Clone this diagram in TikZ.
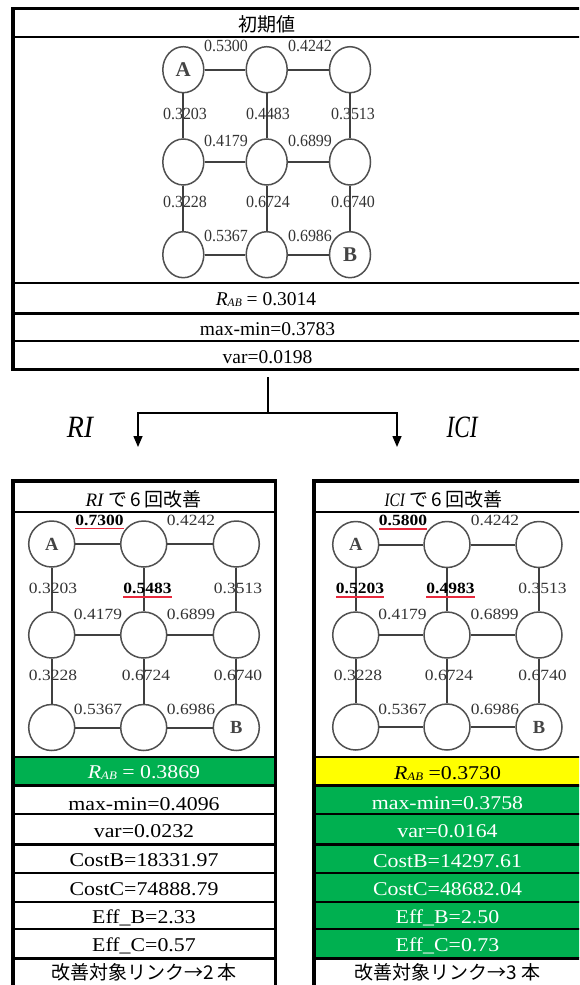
\documentclass[tikz,border=0pt]{standalone}
\usepackage{fontspec}
\usepackage{graphicx}
\setmainfont{Liberation Serif}[FakeStretch=1.12]
\newfontfamily\plainserif{Liberation Serif}
\newfontfamily\sqzserif{Liberation Serif}[FakeStretch=0.94]
\newfontfamily\jp{Noto Sans CJK JP}
\usetikzlibrary{shapes.geometric,arrows.meta}
\definecolor{xgreen}{HTML}{00B050}
\definecolor{xyellow}{HTML}{FFFF00}
\definecolor{cgray}{HTML}{505050}
\definecolor{egray}{HTML}{404040}
\definecolor{lgray}{HTML}{333333}
\definecolor{agray}{HTML}{444444}
\definecolor{ulred}{HTML}{E8283C}
\newcommand\mkgrid[8]{%
  \node[#2] (#111) at (#3,#6) {A};
  \node[#2] (#112) at (#4,#6) {};
  \node[#2] (#113) at (#5,#6) {};
  \node[#2] (#121) at (#3,#7) {};
  \node[#2] (#122) at (#4,#7) {};
  \node[#2] (#123) at (#5,#7) {};
  \node[#2] (#131) at (#3,#8) {};
  \node[#2] (#132) at (#4,#8) {};
  \node[#2] (#133) at (#5,#8) {B};
  \draw[gedge] (#111) -- (#112); \draw[gedge] (#112) -- (#113);
  \draw[gedge] (#121) -- (#122); \draw[gedge] (#122) -- (#123);
  \draw[gedge] (#131) -- (#132); \draw[gedge] (#132) -- (#133);
  \draw[gedge] (#111) -- (#121); \draw[gedge] (#121) -- (#131);
  \draw[gedge] (#112) -- (#122); \draw[gedge] (#122) -- (#132);
  \draw[gedge] (#113) -- (#123); \draw[gedge] (#123) -- (#133);
}
\newcommand\rab[1]{{\itshape R}\raisebox{-1.5pt}{\fontsize{11.5}{12}\selectfont\itshape AB}#1}
\begin{document}
\begin{tikzpicture}[x=1pt,y=-1pt,
  gnode/.style={ellipse,draw=cgray,line width=1.5pt,fill=white,inner sep=0pt,text=agray},
  topnode/.style={gnode,minimum width=41pt,minimum height=46pt,font=\plainserif\bfseries\fontsize{21}{21}\selectfont},
  botnode/.style={gnode,minimum width=46pt,minimum height=46pt,font=\plainserif\bfseries\fontsize{18.5}{18.5}\selectfont},
  gedge/.style={draw=egray,line width=2pt},
  tlab/.style={inner sep=0pt,text=lgray,font=\sqzserif\fontsize{17}{17}\selectfont},
  blab/.style={inner sep=0pt,text=lgray,font=\fontsize{15.6}{16}\selectfont},
  hlab/.style={inner sep=0pt,text=black,font=\bfseries\fontsize{15.6}{16}\selectfont},
  ul/.style={draw=ulred,line width=1.2pt},
  outer/.style={draw=black,line width=3.5pt},
  thickrule/.style={draw=black,line width=3pt},
  thinrule/.style={draw=black,line width=1.1pt},
  toptxt/.style={inner sep=0pt,anchor=base,font=\plainserif\fontsize{19.5}{20}\selectfont},
  bottxt/.style={inner sep=0pt,anchor=base,font=\fontsize{19.5}{20}\selectfont},
  jptxt/.style={inner sep=0pt,font=\jp\fontsize{19}{19}\selectfont},
  conn/.style={draw=black,line width=1.5pt},
  arr/.style={conn,-{Triangle[length=11pt,width=9pt]}}]
\useasboundingbox (0,0) rectangle (579,985);
\clip (0,0) rectangle (579,985);
% fills
\fill[xgreen] (13,757) rectangle (275.5,785);
\fill[xyellow] (314,757) rectangle (595,785);
\fill[xgreen] (314,785) rectangle (595,958);
% top table rules
\draw[thinrule] (13,37) -- (595,37);
\draw[thinrule] (13,283) -- (595,283);
\draw[thickrule] (13,313) -- (595,313);
\draw[thinrule] (13,341) -- (595,341);
\draw[outer] (13,8.5) rectangle (590,369.5);
% bottom tables rules
\foreach \yy in {512,757,814,873,902,929} {
  \draw[thinrule] (13,\yy) -- (275.5,\yy);
  \draw[thinrule] (314,\yy) -- (595,\yy);
}
\foreach \yy in {785,844,958} {
  \draw[thickrule] (13,\yy) -- (275.5,\yy);
  \draw[thickrule] (314,\yy) -- (595,\yy);
}
\draw[outer] (13,1000) -- (13,481) -- (275.5,481) -- (275.5,1000);
\draw[outer] (314,1000) -- (314,481) -- (590,481) -- (590,1000);
% top table texts
\node[jptxt] (ttitle) at (267,24.5) {初期値};
\node[toptxt] (trab) at (266,305) {\rab{ = 0.3014}};
\node[toptxt] (tmm) at (267.5,335) {max-min=0.3783};
\node[toptxt] (tvar) at (267.5,363) {var=0.0198};
% top graph
\mkgrid{t}{topnode}{183.3}{266.7}{350}{69.7}{162}{254.7}
\node[tlab] (tl1) at (226,46) {0.5300};
\node[tlab] (tl2) at (310,46) {0.4242};
\node[tlab] (tl3) at (185,114) {0.3203};
\node[tlab] (tl4) at (268,114) {0.4483};
\node[tlab] (tl5) at (353,114) {0.3513};
\node[tlab] (tl6) at (226,141) {0.4179};
\node[tlab] (tl7) at (310,141) {0.6899};
\node[tlab] (tl8) at (185,202) {0.3228};
\node[tlab] (tl9) at (268,202) {0.6724};
\node[tlab] (tl10) at (353,202) {0.6740};
\node[tlab] (tl11) at (226,236) {0.5367};
\node[tlab] (tl12) at (310,236) {0.6986};
% connectors
\coordinate (stemtop) at (268,377);
\coordinate (split) at (268,413);
\coordinate (riend) at (138,447);
\coordinate (iciend) at (397,447);
\draw[conn] (stemtop) -- (split);
\draw[arr] (split) -| (riend);
\draw[arr] (split) -| (iciend);
\node[inner sep=0pt,anchor=base,font=\plainserif\itshape\fontsize{31}{31}\selectfont] (rilab) at (80,437) {\scalebox{0.9}[1]{RI}};
\node[inner sep=0pt,anchor=base,font=\plainserif\itshape\fontsize{31}{31}\selectfont] (icilab) at (462,437) {\scalebox{0.75}[1]{ICI}};
% left bottom table
\node[inner sep=0pt,anchor=base] (ltitle) at (143.3,506) {{\plainserif\itshape\fontsize{19}{19}\selectfont RI}\hspace{5pt}{\jp\fontsize{19}{19}\selectfont で\hspace{3pt}6\hspace{3pt}回改善}};
\mkgrid{l}{botnode}{51.7}{143.7}{236.3}{544}{635}{727.5}
\node[hlab] (ll1) at (99.5,520) {0.7300};
\node[blab] (ll2) at (191,520) {0.4242};
\node[blab] (ll3) at (53,588.5) {0.3203};
\node[hlab] (ll4) at (147.5,588.5) {0.5483};
\node[blab] (ll5) at (238,588.5) {0.3513};
\node[blab] (ll6) at (98,614) {0.4179};
\node[blab] (ll7) at (191,614) {0.6899};
\node[blab] (ll8) at (53,675) {0.3228};
\node[blab] (ll9) at (146,675) {0.6724};
\node[blab] (ll10) at (238,675) {0.6740};
\node[blab] (ll11) at (98,709.5) {0.5367};
\node[blab] (ll12) at (191,709.5) {0.6986};
\draw[ul] ([yshift=-3pt]ll1.south west) -- ([yshift=-3pt]ll1.south east);
\draw[ul] ([yshift=-3pt]ll4.south west) -- ([yshift=-3pt]ll4.south east);
\node[bottxt,text=white] (lrab) at (144,778) {\rab{ = 0.3869}};
\node[bottxt] (lmm) at (144,810) {max-min=0.4096};
\node[bottxt] (lvar) at (144,837) {var=0.0232};
\node[bottxt] (lcb) at (144,866.5) {CostB=18331.97};
\node[bottxt] (lcc) at (144,895) {CostC=74888.79};
\node[bottxt] (leb) at (144,923) {Eff\_B=2.33};
\node[bottxt] (lec) at (144,951) {Eff\_C=0.57};
\node[jptxt] (llast) at (144,972.5) {改善対象リンク→2 本};
% right bottom table
\node[inner sep=0pt,anchor=base] (rtitle) at (443.5,506) {{\plainserif\itshape\fontsize{19}{19}\selectfont\scalebox{0.8}[1]{ICI}}\hspace{5pt}{\jp\fontsize{19}{19}\selectfont で\hspace{3pt}6\hspace{3pt}回改善}};
\mkgrid{r}{botnode}{355.7}{447}{539}{544.5}{635}{727}
\node[hlab] (rl1) at (403,520.5) {0.5800};
\node[blab] (rl2) at (495,520.5) {0.4242};
\node[hlab] (rl3) at (360,588.5) {0.5203};
\node[hlab] (rl4) at (450.5,588.5) {0.4983};
\node[blab] (rl5) at (542.5,588.5) {0.3513};
\node[blab] (rl6) at (402.5,614) {0.4179};
\node[blab] (rl7) at (494.7,614) {0.6899};
\node[blab] (rl8) at (358,675) {0.3228};
\node[blab] (rl9) at (449,675) {0.6724};
\node[blab] (rl10) at (542.5,675) {0.6740};
\node[blab] (rl11) at (402.5,709.5) {0.5367};
\node[blab] (rl12) at (495,709.5) {0.6986};
\draw[ul] ([yshift=-3pt]rl1.south west) -- ([yshift=-3pt]rl1.south east);
\draw[ul] ([yshift=-3pt]rl3.south west) -- ([yshift=-3pt]rl3.south east);
\draw[ul] ([yshift=-3pt]rl4.south west) -- ([yshift=-3pt]rl4.south east);
\node[bottxt] (rrab) at (447.5,779) {\rab{ =0.3730}};
\node[bottxt,text=white] (rmm) at (447.5,809) {max-min=0.3758};
\node[bottxt,text=white] (rvar) at (447.5,837) {var=0.0164};
\node[bottxt,text=white] (rcb) at (447.5,867) {CostB=14297.61};
\node[bottxt,text=white] (rcc) at (447.5,895.5) {CostC=48682.04};
\node[bottxt,text=white] (reb) at (447.5,923) {Eff\_B=2.50};
\node[bottxt,text=white] (rec) at (447.5,951) {Eff\_C=0.73};
\node[jptxt] (rlast) at (447.5,972) {改善対象リンク→3 本};
\end{tikzpicture}
\end{document}
